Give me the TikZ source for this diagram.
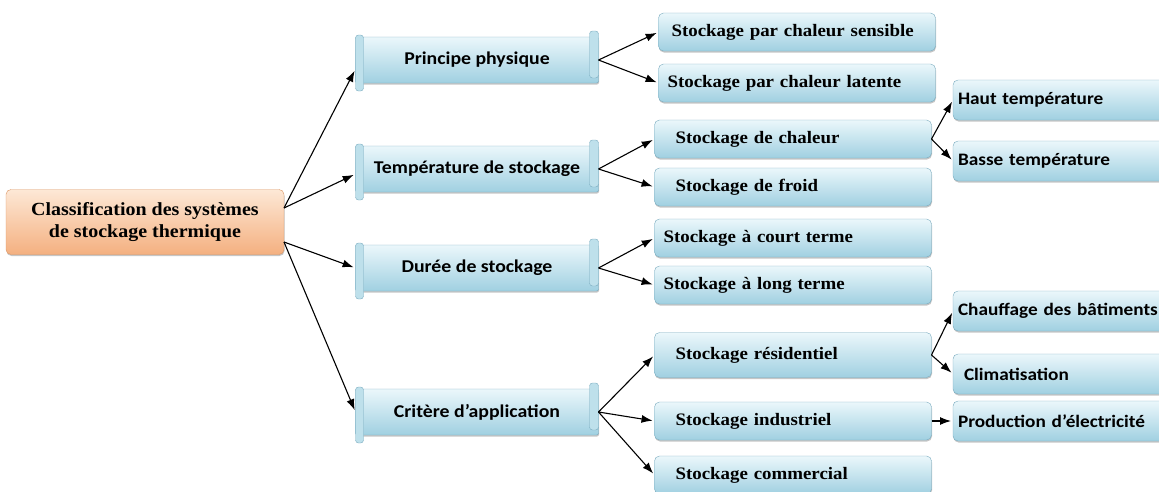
\documentclass[tikz,border=0pt]{standalone}
\usepackage{fontspec}
\setmainfont[FakeStretch=1.08]{Liberation Serif}
\newfontfamily\calib[FakeStretch=1.1]{Carlito}
\usetikzlibrary{arrows.meta,shadows}

\definecolor{boxtop}{RGB}{235,247,251}
\definecolor{boxbot}{RGB}{160,208,225}
\definecolor{boxline}{RGB}{120,170,190}
\definecolor{roottop}{RGB}{253,232,214}
\definecolor{rootbot}{RGB}{244,176,128}
\definecolor{rootline}{RGB}{220,150,100}

\begin{document}
\begin{tikzpicture}
	[x=1pt,y=-1pt,
	>={Latex[length=11pt,width=8pt]},
	every node/.style={inner sep=0pt,outer sep=0pt},
	box/.style={draw=boxline,rounded corners=5pt,top color=boxtop,bottom color=boxbot,
		drop shadow={shadow xshift=.5pt,shadow yshift=-1.5pt,opacity=.45}},
	root/.style={box,draw=rootline,top color=roottop,bottom color=rootbot,minimum width=278pt,minimum height=65pt,align=center,font=\fontsize{18.5}{22}\selectfont\bfseries},
	scroll/.style={box,rounded corners=2pt,minimum width=243pt,minimum height=46pt,font=\calib\fontsize{18}{22}\selectfont\bfseries},
	leaf/.style={box,minimum height=38pt,text width=259pt,inner xsep=9pt,align=left,font=\fontsize{17.5}{21}\selectfont\bfseries},
	subleaf/.style={box,minimum height=40pt,text width=226pt,inner xsep=5pt,align=left,font=\calib\fontsize{17.5}{21}\selectfont\bfseries},
	curl/.style={draw=boxline,fill=boxbot!60!boxtop,rounded corners=3pt},
	link/.style={->,line width=1.1pt,shorten >=2pt}]
	\useasboundingbox (0,0) rectangle (1159,491);
	% root and first level
	\node[root] (root) at (145,222) {Classification des systèmes\\de stockage thermique};
	\node[scroll] (phys) at (477,60) {Principe physique};
	\node[scroll] (temp) at (477,169) {Température de stockage};
	\node[scroll] (duree) at (477,268) {Durée de stockage};
	\node[scroll] (appl) at (477,412) {Critère d’application};
	\foreach \s in {phys,temp,duree,appl} {
		\draw[curl] ([xshift=-9pt,yshift=6pt]\s.north east) rectangle ([yshift=5pt]\s.south east);
		\draw[curl] ([yshift=2pt]\s.north west) rectangle ([xshift=8pt,yshift=-8pt]\s.south west);
	}
	% second level
	\node[leaf] (sens) at (797,32) {\hspace*{4pt}Stockage par chaleur sensible};
	\node[leaf] (lat) at (797,83) {Stockage par chaleur latente};
	\node[leaf] (chal) at (793,139) {\hspace*{12pt}Stockage de chaleur};
	\node[leaf] (froid) at (793,187) {\hspace*{12pt}Stockage de froid};
	\node[leaf] (court) at (793,238) {Stockage à court terme};
	\node[leaf] (long) at (793,285) {Stockage à long terme};
	\node[leaf,minimum height=45pt] (resid) at (793,355) {\hspace*{12pt}Stockage résidentiel};
	\node[leaf] (indus) at (793,421) {\hspace*{12pt}Stockage industriel};
	\node[leaf] (comm) at (793,475) {\hspace*{12pt}Stockage commercial};
	% third level
	\node[subleaf] (haut) at (1071,100) {Haut température};
	\node[subleaf] (basse) at (1071,161) {Basse température};
	\node[subleaf] (chauf) at (1071,311) {Chauffage des bâtiments};
	\node[subleaf] (clim) at (1071,374) {\hspace*{6pt}Climatisation};
	\node[subleaf] (prod) at (1071,421) {Production d’électricité};
	% arrows
	\draw[link] ([yshift=14pt]root.east) -- ([yshift=-9pt]phys.west);
	\draw[link] ([yshift=14pt]root.east) -- ([yshift=-5pt]temp.west);
	\draw[link] ([yshift=-20pt]root.east) -- (duree.west);
	\draw[link] ([yshift=-20pt]root.east) -- (appl.west);
	\foreach \a/\b in {phys/sens,phys/lat,temp/chal,temp/froid,duree/court,duree/long,appl/resid,appl/indus,appl/comm,chal/haut,chal/basse,resid/chauf,resid/clim,indus/prod}
		\draw[link] (\a.east) -- (\b.west);
\end{tikzpicture}
\end{document}
